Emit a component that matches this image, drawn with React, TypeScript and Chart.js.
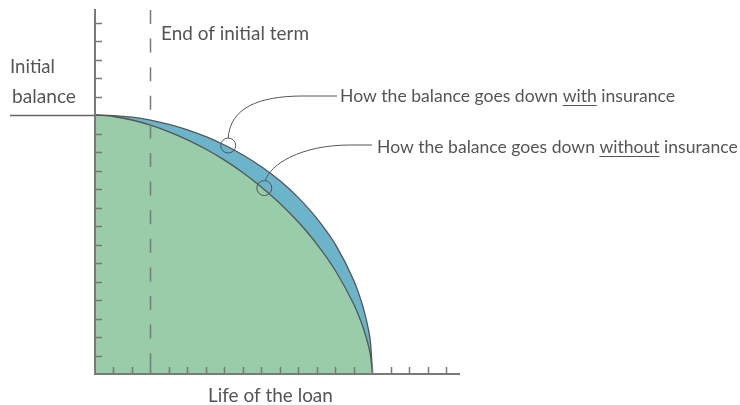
import React, { useEffect, useRef } from "react";
import { Chart, registerables } from "chart.js";

Chart.register(...registerables);

// ---- data (units: x = time along the loan, y = balance) ----
const loanYears = [0, 1, 2, 3, 4, 5, 6, 7, 8, 9, 10, 11, 12, 13, 14, 14.25, 14.5, 14.75, 14.9, 15];
const balanceWithInsurance = [14, 13.97, 13.88, 13.72, 13.49, 13.2, 12.83, 12.38, 11.84, 11.2, 10.44, 9.52, 8.4, 6.99, 5.03, 4.37, 3.58, 2.55, 1.61, 0];
const balanceWithoutInsurance = [14, 13.92, 13.73, 13.45, 13.09, 12.66, 12.15, 11.56, 10.88, 10.1, 9.22, 8.2, 7.01, 5.58, 3.74, 3.16, 2.49, 1.65, 0.95, 0];
const initialBalance = 14;
const initialTermEnd = 3;
const xTickValues = [1, 2, 3, 4, 5, 6, 7, 8, 9, 10, 11, 12, 13, 14, 15, 16, 17, 18, 19];
const yTickValues = [1, 2, 3, 4, 5, 6, 7, 8, 9, 10, 11, 12, 13, 15, 16, 17, 18, 19];
const xMax = 19.73;
const yMax = 19.73;
const withAnchor = [7.2, 12.35];
const withoutAnchor = [9.15, 10.05];

const labelInitial = ["Initial", "balance"];
const labelTerm = "End of initial term";
const labelXAxis = "Life of the loan";
const labelWith = ["How the balance goes down ", "with", " insurance"];
const labelWithout = ["How the balance goes down ", "without", " insurance"];

const GREEN = "#99CCA9";
const BLUE = "#6BB4C9";
const LINE = "#555555";
const AXIS = "#7a7a7a";
const TEXT = "#555555";
const FONT = "Lato, 'Open Sans', sans-serif";

function drawText(ctx: CanvasRenderingContext2D, text: string, x: number, y: number, targetW: number) {
  ctx.font = `16px ${FONT}`;
  const w = ctx.measureText(text).width;
  const size = (16 * targetW) / w;
  ctx.font = `${size.toFixed(2)}px ${FONT}`;
  ctx.fillText(text, x, y);
  return size;
}

function drawUnderlined(ctx: CanvasRenderingContext2D, parts: string[], x: number, y: number, targetW: number) {
  const full = parts.join("");
  const size = drawText(ctx, full, x, y, targetW);
  const pre = ctx.measureText(parts[0]).width;
  const mid = ctx.measureText(parts[1]).width;
  ctx.beginPath();
  ctx.lineWidth = 1;
  ctx.strokeStyle = TEXT;
  const uy = Math.round(y + size * 0.5) + 0.5;
  ctx.moveTo(x + pre, uy);
  ctx.lineTo(x + pre + mid, uy);
  ctx.stroke();
}

const overlay = {
  id: "overlay",
  afterDatasetsDraw(chart: any) {
    const ctx: CanvasRenderingContext2D = chart.ctx;
    const xs = chart.scales.x;
    const ys = chart.scales.y;
    const x0 = xs.getPixelForValue(0);
    const y0 = ys.getPixelForValue(0);
    const xEnd = xs.getPixelForValue(xMax);
    const yTop = ys.getPixelForValue(yMax);
    ctx.save();

    // ticks (inward)
    ctx.strokeStyle = AXIS;
    ctx.lineWidth = 1.5;
    ctx.beginPath();
    for (const v of xTickValues) {
      const px = Math.round(xs.getPixelForValue(v)) + 0.5;
      ctx.moveTo(px, y0);
      ctx.lineTo(px, y0 - 7);
    }
    for (const v of yTickValues) {
      const py = Math.round(ys.getPixelForValue(v)) + 0.5;
      ctx.moveTo(x0, py);
      ctx.lineTo(x0 + 7, py);
    }
    ctx.stroke();

    // axes
    ctx.beginPath();
    ctx.lineWidth = 2;
    ctx.moveTo(x0, yTop);
    ctx.lineTo(x0, y0);
    ctx.lineTo(xEnd, y0);
    ctx.stroke();

    // initial balance line
    const yb = Math.round(ys.getPixelForValue(initialBalance)) + 0.5;
    ctx.beginPath();
    ctx.lineWidth = 1.3;
    ctx.strokeStyle = "#666";
    ctx.moveTo(10, yb);
    ctx.lineTo(x0, yb);
    ctx.stroke();

    // dashed end of initial term
    const xd = Math.round(xs.getPixelForValue(initialTermEnd)) + 0.5;
    ctx.beginPath();
    ctx.strokeStyle = AXIS;
    ctx.lineWidth = 1.5;
    ctx.setLineDash([14, 14.6]);
    ctx.moveTo(xd, yTop + 1);
    ctx.lineTo(xd, y0);
    ctx.stroke();
    ctx.setLineDash([]);

    // annotation circles + leaders
    const r = 7.5;
    const c1x = xs.getPixelForValue(withAnchor[0]);
    const c1y = ys.getPixelForValue(withAnchor[1]);
    const c2x = xs.getPixelForValue(withoutAnchor[0]);
    const c2y = ys.getPixelForValue(withoutAnchor[1]);
    const t1x = 340, t1y = 96;
    const t2x = 377, t2y = 147;
    ctx.strokeStyle = LINE;
    ctx.lineWidth = 1;
    ctx.beginPath();
    ctx.arc(c1x, c1y, r, 0, Math.PI * 2);
    ctx.stroke();
    ctx.beginPath();
    ctx.arc(c2x, c2y, r, 0, Math.PI * 2);
    ctx.stroke();

    ctx.beginPath();
    ctx.moveTo(c1x, c1y - r);
    ctx.bezierCurveTo(c1x + 2, c1y - r - 30, c1x + 30, t1y, c1x + 75, t1y);
    ctx.lineTo(t1x - 3, t1y);
    ctx.stroke();

    ctx.beginPath();
    ctx.moveTo(c2x + 1, c2y - r);
    ctx.bezierCurveTo(c2x + 6, c2y - r - 16, c2x + 36, t2y - 2, c2x + 86, t2y - 2);
    ctx.lineTo(t2x - 5, t2y - 2);
    ctx.stroke();

    // texts
    ctx.fillStyle = TEXT;
    ctx.textBaseline = "middle";
    ctx.textAlign = "left";
    drawText(ctx, labelTerm, 161, 34, 148);
    drawText(ctx, labelInitial[0], 10, 67, 45);
    drawText(ctx, labelInitial[1], 12, 97, 64);
    drawText(ctx, labelXAxis, 208, 396, 125);
    drawUnderlined(ctx, labelWith, t1x, t1y, 335);
    drawUnderlined(ctx, labelWithout, t2x, t2y, 361);

    ctx.restore();
  },
};

export default function App() {
  const ref = useRef<HTMLCanvasElement | null>(null);
  useEffect(() => {
    if (!ref.current) return;
    const chart = new Chart(ref.current, {
      type: "line",
      data: {
        datasets: [
          {
            label: "Without insurance",
            data: loanYears.map((x, i) => ({ x, y: balanceWithoutInsurance[i] })),
            fill: "origin",
            backgroundColor: GREEN,
            borderColor: LINE,
            borderWidth: 1.3,
            pointRadius: 0,
            cubicInterpolationMode: "monotone",
          },
          {
            label: "With insurance",
            data: loanYears.map((x, i) => ({ x, y: balanceWithInsurance[i] })),
            fill: "-1",
            backgroundColor: BLUE,
            borderColor: LINE,
            borderWidth: 1.3,
            pointRadius: 0,
            cubicInterpolationMode: "monotone",
          },
        ],
      },
      options: {
        animation: false,
        responsive: false,
        devicePixelRatio: 1,
        layout: { padding: { left: 95, right: 280, top: 9, bottom: 31 } },
        plugins: { legend: { display: false }, tooltip: { enabled: false } },
        scales: {
          x: { type: "linear", min: 0, max: xMax, display: false },
          y: { type: "linear", min: 0, max: yMax, display: false },
        },
      },
      plugins: [overlay],
    } as any);
    return () => chart.destroy();
  }, []);
  return (
    <div style={{ position: "fixed", left: 0, top: 0, width: 740, height: 405, background: "#fff" }}>
      <canvas ref={ref} width={740} height={405} style={{ display: "block" }} />
    </div>
  );
}
